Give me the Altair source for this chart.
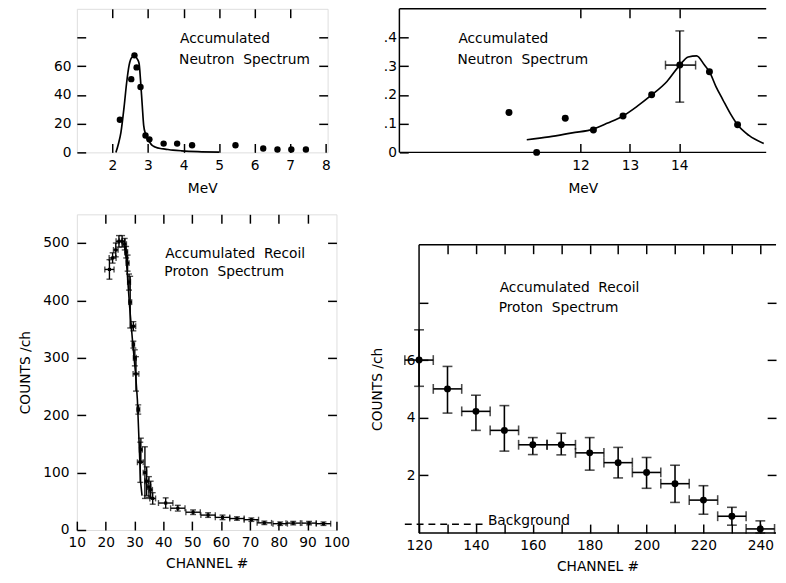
import altair as alt
import pandas as pd

FONT = "DejaVu Sans"
T = 9  # inward tick length
NB = "\u00a0\u00a0"

# ---------------- data ----------------
# Top-left: accumulated neutron spectrum (low energy)
tl_dot_mev = [2.21, 2.53, 2.62, 2.68, 2.79, 2.93, 3.04, 3.44, 3.82, 4.24, 5.46, 6.24, 6.64, 7.03, 7.44]
tl_dot_val = [22.7, 51.0, 67.6, 59.2, 45.5, 11.8, 9.1, 6.1, 6.1, 5.0, 5.0, 2.7, 2.0, 2.0, 2.0]
tl_fit_mev = [2.10, 2.17, 2.24, 2.33, 2.40, 2.47, 2.56, 2.63, 2.70, 2.75, 2.79, 2.84, 2.88, 2.93,
              2.98, 3.05, 3.11, 3.20, 3.35, 3.48, 3.70, 3.94, 4.40, 5.00]
tl_fit_val = [0.0, 6.0, 14.0, 32.0, 48.5, 60.8, 66.5, 67.0, 65.0, 61.9, 50.5, 32.3, 18.6, 13.0,
              9.6, 7.0, 5.0, 3.8, 2.7, 2.3, 1.6, 1.1, 0.5, 0.2]

# Top-right: accumulated neutron spectrum (14 MeV region)
tr_dot_mev = [10.55, 11.11, 11.69, 12.26, 12.86, 13.44, 14.01, 14.61, 15.18]
tr_dot_val = [0.139, 0.0, 0.119, 0.078, 0.127, 0.201, 0.304, 0.281, 0.096]
tr_fit_mev = [10.91, 11.36, 11.83, 12.26, 12.55, 12.86, 13.15, 13.44, 13.75, 14.01, 14.18, 14.35,
              14.51, 14.61, 14.74, 14.88, 15.04, 15.18, 15.41, 15.71]
tr_fit_val = [0.044, 0.054, 0.068, 0.081, 0.102, 0.127, 0.161, 0.200, 0.247, 0.304, 0.332, 0.336,
              0.304, 0.281, 0.230, 0.184, 0.133, 0.096, 0.059, 0.031]
tr_err_mev = [14.01]
tr_err_val = [0.304]
tr_err_ylo = [0.175]
tr_err_yhi = [0.423]
tr_err_xlo = [13.72]
tr_err_xhi = [14.33]

# Bottom-left: accumulated recoil proton spectrum (channels 10-100)
bl_ch = [21.3, 22.4, 23.5, 24.6, 25.7, 26.6, 27.1, 27.6, 28.1, 28.5, 29.6, 29.6, 30.1, 30.5,
         31.3, 32.2, 32.0, 33.6, 34.2, 35.0, 35.6, 36.3, 40.8, 45.0, 50.3, 55.5, 60.5, 65.5,
         70.5, 75.0, 80.5, 85.0, 90.5, 95.5]
bl_cnt = [454, 474, 488, 503, 503, 498, 484, 465, 432, 397, 355, 323, 300, 272,
          210, 140, 118, 100, 85, 75, 70, 55, 47, 38, 31, 26, 22, 20,
          18, 12.5, 11, 12, 12, 11]
bl_dch = [1.6, 1.2, 0.8, 1.0, 1.0, 0.6, 0.5, 0.5, 0.5, 0.5, 0.8, 0.4, 0.5, 1.0,
          0.5, 0.5, 1.0, 0.6, 0.6, 0.6, 0.6, 1.0, 2.5, 2.5, 2.5, 2.5, 2.5, 2.5,
          2.5, 2.5, 2.5, 2.5, 2.5, 2.5]
bl_dcnt = [17, 9, 12, 10, 10, 10, 10, 14, 14, 45, 8, 6, 14, 30,
           8, 20, 35, 45, 25, 18, 15, 10, 9, 5, 4, 4, 4, 3,
           3, 3, 3, 3, 3, 3]
bl_line_ch = [26.8, 27.5, 28.3, 29.3, 30.4, 31.0, 31.6, 32.1, 32.6]
bl_line_cnt = [495, 446, 389, 330, 270, 226, 150, 84, 60]

# Bottom-right: accumulated recoil proton spectrum (channels 120-240)
br_ch = [120, 130, 140, 150, 160, 170, 180, 190, 200, 210, 220, 230, 240]
br_cnt = [6.0, 5.0, 4.22, 3.56, 3.06, 3.06, 2.78, 2.44, 2.10, 1.71, 1.14, 0.58, 0.14]
br_lo = [5.09, 4.16, 3.56, 2.84, 2.72, 2.71, 2.18, 1.91, 1.55, 1.06, 0.65, 0.27, 0.0]
br_hi = [7.05, 5.78, 4.78, 4.42, 3.31, 3.46, 3.31, 2.97, 2.62, 2.35, 1.64, 0.89, 0.42]
br_half = [5] * 13
bg_ch = [115, 142.5]
bg_cnt = [0.3, 0.3]

# ---------------- tables ----------------
tl_dots = pd.DataFrame({"x": tl_dot_mev, "y": tl_dot_val})
tl_fit = pd.DataFrame({"x": tl_fit_mev, "y": tl_fit_val})
tr_dots = pd.DataFrame({"x": tr_dot_mev, "y": tr_dot_val})
tr_fit = pd.DataFrame({"x": tr_fit_mev, "y": tr_fit_val})
tr_err = pd.DataFrame({"x": tr_err_mev, "y": tr_err_val, "ylo": tr_err_ylo, "yhi": tr_err_yhi,
                       "xlo": tr_err_xlo, "xhi": tr_err_xhi})
bl = pd.DataFrame({"x": bl_ch, "y": bl_cnt})
bl["xlo"] = [a - b for a, b in zip(bl_ch, bl_dch)]
bl["xhi"] = [a + b for a, b in zip(bl_ch, bl_dch)]
bl["ylo"] = [a - b for a, b in zip(bl_cnt, bl_dcnt)]
bl["yhi"] = [a + b for a, b in zip(bl_cnt, bl_dcnt)]
bl_line = pd.DataFrame({"x": bl_line_ch, "y": bl_line_cnt})
br = pd.DataFrame({"x": br_ch, "y": br_cnt, "ylo": br_lo, "yhi": br_hi})
br["xlo"] = [a - h for a, h in zip(br_ch, br_half)]
br["xhi"] = [a + h for a, h in zip(br_ch, br_half)]
bg = pd.DataFrame({"x": bg_ch, "y": bg_cnt})


# ---------------- helpers ----------------
def axis(orient, values, labels=True, label_expr=None, title=None, label_pad=5, title_pad=10):
    kw = dict(orient=orient, values=values, offset=-T, tickSize=T, tickWidth=1.5,
              tickColor="black", domain=False, grid=False, labels=labels,
              labelFont=FONT, labelFontSize=14, labelColor="black", labelPadding=label_pad,
              labelFlush=False, labelOverlap=False, titleFont=FONT, titleFontSize=14,
              titleFontWeight="normal", titleColor="black", titlePadding=title_pad,
              title=title)
    if label_expr is not None:
        kw["labelExpr"] = label_expr
    return alt.Axis(**kw)


def X(field, dom, ax=None):
    sc = alt.Scale(domain=dom, nice=False, zero=False)
    if ax is None:
        return alt.X(field, type="quantitative", scale=sc, axis=None)
    return alt.X(field, type="quantitative", scale=sc, axis=ax)


def Y(field, dom, ax=None):
    sc = alt.Scale(domain=dom, nice=False, zero=False)
    if ax is None:
        return alt.Y(field, type="quantitative", scale=sc, axis=None)
    return alt.Y(field, type="quantitative", scale=sc, axis=ax)


def label(text, px, py, size=14):
    return alt.Chart(pd.DataFrame({"t": [text]})).mark_text(
        align="left", baseline="alphabetic", font=FONT, fontSize=size, color="black"
    ).encode(x=alt.value(px), y=alt.value(py), text="t:N")


def open_frame(w, h):
    # left, top and bottom edges only: the right edge lies beyond the page
    base = alt.Chart(pd.DataFrame({"k": [0]})).mark_rule(color="black", strokeWidth=1.5)
    return [
        base.encode(x=alt.value(0), y=alt.value(0), y2=alt.value(h)),
        base.encode(x=alt.value(0), x2=alt.value(w), y=alt.value(0)),
        base.encode(x=alt.value(0), x2=alt.value(w), y=alt.value(h)),
    ]


# ---------------- top-left ----------------
TLX = [1.0, 8.05]
TLY = [0, 100]
tl_main = alt.Chart(tl_dots).mark_circle(size=42, color="black", opacity=1).encode(
    x=X("x", TLX, axis("bottom", [2, 3, 4, 5, 6, 7, 8], title="MeV", label_pad=6)),
    y=Y("y", TLY, axis("left", [0, 20, 40, 60, 80],
                       label_expr="datum.value <= 60 ? datum.label : ''", label_pad=6)),
)
tl_aux = alt.Chart(tl_fit).mark_line(color="black", strokeWidth=1.7, interpolate="monotone").encode(
    x=X("x", TLX, axis("top", [2, 3, 4, 5, 6, 7], labels=False)),
    y=Y("y", TLY, axis("right", [20, 40, 60, 80], labels=False)),
)
tl = alt.layer(
    tl_main, tl_aux,
    label("Accumulated", 105, 35), label("Neutron" + NB + "Spectrum", 104, 56),
).resolve_axis(x="independent", y="independent").properties(width=255, height=146)

# ---------------- top-right ----------------
TR_W, TR_H = 373, 146
TRX = [8.33, 15.76]
TRY = [0, 0.5]
tr_main = alt.Chart(tr_dots).mark_circle(size=50, color="black", opacity=1).encode(
    x=X("x", TRX, axis("bottom", [12, 13, 14], title="MeV", label_pad=6)),
    y=Y("y", TRY, axis("left", [0, 0.1, 0.2, 0.3, 0.4],
                       label_expr="datum.value == 0 ? '0' : slice(format(datum.value, '.1f'), 1)",
                       label_pad=3)),
)
tr_aux = alt.Chart(tr_fit).mark_line(color="black", strokeWidth=1.7, interpolate="monotone").encode(
    x=X("x", TRX, axis("top", [12, 13, 14], labels=False)),
    y=Y("y", TRY, axis("right", [0.1, 0.2, 0.3, 0.4], labels=False)),
)
tr_ev = alt.Chart(tr_err).mark_errorbar(ticks=True, size=9, thickness=1.5, color="black").encode(
    x=X("x", TRX), y=Y("ylo", TRY), y2="yhi")
tr_eh = alt.Chart(tr_err).mark_errorbar(ticks=True, size=9, thickness=1.5, color="black").encode(
    y=Y("y", TRY), x=X("xlo", TRX), x2="xhi")
tr = alt.layer(
    tr_main, tr_aux, tr_ev, tr_eh,
    label("Accumulated", 60, 35), label("Neutron" + NB + "Spectrum", 59, 56),
    *open_frame(TR_W, TR_H),
).resolve_axis(x="independent", y="independent").properties(
    width=TR_W, height=TR_H, view=alt.ViewBackground(stroke="transparent"))

# ---------------- bottom-left ----------------
BLX = [10, 100]
BLY = [0, 550]
bl_main = alt.Chart(bl).mark_square(size=10, color="black", opacity=1).encode(
    x=X("x", BLX, axis("bottom", list(range(10, 101, 10)), title="CHANNEL  #",
                       label_pad=6, title_pad=7)),
    y=Y("y", BLY, axis("left", list(range(0, 501, 100)), title="COUNTS /ch",
                       label_pad=8, title_pad=10)),
)
bl_aux = alt.Chart(bl_line).mark_line(color="black", strokeWidth=1.6).encode(
    x=X("x", BLX, axis("top", list(range(20, 91, 10)), labels=False)),
    y=Y("y", BLY, axis("right", list(range(100, 501, 100)), labels=False)),
)
bl_ev = alt.Chart(bl).mark_errorbar(ticks=True, size=6, thickness=1.4, color="black").encode(
    x=X("x", BLX), y=Y("ylo", BLY), y2="yhi")
bl_eh = alt.Chart(bl).mark_errorbar(ticks=True, size=6, thickness=1.4, color="black").encode(
    y=Y("y", BLY), x=X("xlo", BLX), x2="xhi")
blc = alt.layer(
    bl_main, bl_aux, bl_ev, bl_eh,
    label("Accumulated" + NB + "Recoil", 90, 44), label("Proton" + NB + "Spectrum", 89, 63),
).resolve_axis(x="independent", y="independent").properties(width=264, height=321)

# ---------------- bottom-right ----------------
BR_W, BR_H = 363, 293
BRX = [120, 245.52]
BRY = [0, 10]
br_main = alt.Chart(br).mark_circle(size=50, color="black", opacity=1).encode(
    x=X("x", BRX, axis("bottom", list(range(120, 241, 10)),
                       label_expr="datum.value % 20 == 0 ? datum.label : ''",
                       title="CHANNEL  #", label_pad=6, title_pad=7)),
    y=Y("y", BRY, axis("left", [2, 4, 6, 8],
                       label_expr="datum.value <= 6 ? datum.label : ''",
                       title="COUNTS /ch", label_pad=4, title_pad=22)),
)
br_aux = alt.Chart(bg).mark_line(color="black", strokeWidth=1.4, strokeDash=[7, 5]).encode(
    x=X("x", BRX, axis("top", list(range(130, 241, 10)), labels=False)),
    y=Y("y", BRY, axis("right", [2, 4, 6, 8], labels=False)),
)
br_ev = alt.Chart(br).mark_errorbar(ticks=True, size=10, thickness=1.6, color="black").encode(
    x=X("x", BRX), y=Y("ylo", BRY), y2="yhi")
br_eh = alt.Chart(br).mark_errorbar(ticks=True, size=10, thickness=1.6, color="black").encode(
    y=Y("y", BRY), x=X("xlo", BRX), x2="xhi")
brc = alt.layer(
    br_main, br_aux, br_ev, br_eh,
    label("Accumulated" + NB + "Recoil", 82, 48), label("Proton" + NB + "Spectrum", 81, 68),
    label("Background", 70, 285),
    *open_frame(BR_W, BR_H),
).resolve_axis(x="independent", y="independent").properties(
    width=BR_W, height=BR_H, view=alt.ViewBackground(stroke="transparent"))

spacer = alt.Chart(pd.DataFrame({"t": [" "]})).mark_text(opacity=0).encode(
    text="t:N"
).properties(width=1, height=28, view=alt.ViewBackground(stroke="transparent"))

top = alt.hconcat(tl, tr, spacing=52)
bottom = alt.hconcat(blc, alt.vconcat(spacer, brc, spacing=0), spacing=20)
chart = alt.vconcat(top, bottom, spacing=16).properties(
    padding={"left": 10, "top": -6, "right": 0, "bottom": 0}
).configure_view(stroke="black", strokeWidth=1.5).configure(background="white")

chart.save("out.html", embed_options={"renderer": "svg", "actions": False})
